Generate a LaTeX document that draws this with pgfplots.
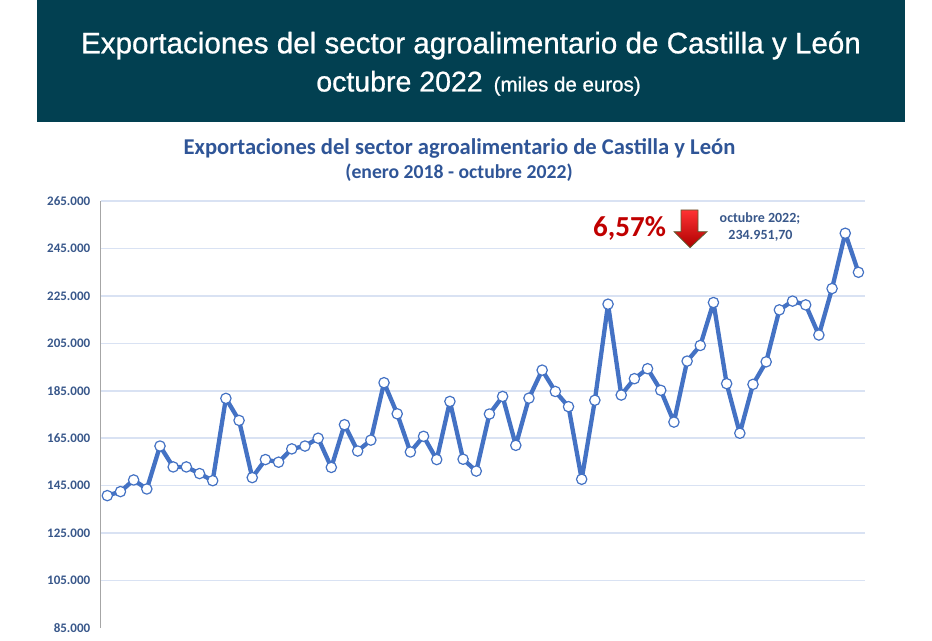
\documentclass[border=0pt]{standalone}
\usepackage{pgfplots}
\pgfplotsset{compat=1.18}
\usepackage{fontspec}
\setmainfont{Carlito}
\newfontfamily\bannerfont[FakeBold=0.8]{Liberation Sans}
\definecolor{banner}{RGB}{2,64,81}
\definecolor{titleblue}{RGB}{47,85,151}
\definecolor{tickblue}{RGB}{56,87,138}
\definecolor{lineblue}{RGB}{68,114,196}
\definecolor{gridblue}{RGB}{217,226,243}
\definecolor{axisgray}{RGB}{166,166,166}
\definecolor{annored}{RGB}{192,0,0}
\begin{document}
\begin{tikzpicture}[x=1bp,y=1bp]
\path[use as bounding box] (0,0) rectangle (932,641);
\fill[banner] (37,519) rectangle (905,641);
\node[anchor=base, text=white, font=\bannerfont\fontsize{29.6bp}{32bp}\selectfont, inner sep=0] at (471,587.7) {Exportaciones del sector agroalimentario de Castilla y León};
\node[anchor=base, text=white, font=\bannerfont, inner sep=0] at (478.5,549.5) {{\fontsize{28.5bp}{30bp}\selectfont octubre 2022}\hspace{11bp}{\fontsize{20.5bp}{24bp}\selectfont (miles de euros)}};
\node[anchor=base, text=titleblue, font=\bfseries\fontsize{22.6bp}{24bp}\selectfont, inner sep=0] at (459.5,486.2) {Exportaciones del sector agroalimentario de Castilla y León};
\node[anchor=base, text=titleblue, font=\bfseries\fontsize{19.7bp}{24bp}\selectfont, inner sep=0] at (459,462.5) {(enero 2018 - octubre 2022)};
\node[anchor=base west, text=annored, font=\bfseries\fontsize{29bp}{32bp}\selectfont, inner sep=0] at (593,404.3) {6,57\%};
\shade[top color=red!80!white, bottom color=annored!90!black, draw={rgb,255:red,90;green,95;blue,50}, line width=0.8bp]
  (681,431) -- (698,431) -- (698,409.3) -- (707,409.3) -- (690,393.3) -- (674,409.3) -- (681,409.3) -- cycle;
\node[anchor=base, text=tickblue, font=\bfseries\fontsize{14bp}{16bp}\selectfont, inner sep=0] at (760,418.3) {octubre 2022;};
\node[anchor=base, text=tickblue, font=\bfseries\fontsize{14bp}{16bp}\selectfont, inner sep=0] at (760.5,401) {234.951,70};
\begin{axis}[
  at={(100.7bp,13bp)}, anchor=south west, scale only axis,
  width=764.3bp, height=427bp,
  xmin=0.5, xmax=58.5, ymin=85000, ymax=265000,
  axis x line=none, axis y line=left, axis line style={-, axisgray, line width=1.3bp},
  xtick=\empty,
  ytick={105000,125000,...,265000},
  extra y ticks={85000}, extra y tick style={grid=none},
  ymajorgrids, grid style={gridblue, line width=1.5bp},
  major tick length=0pt,
  scaled y ticks=false,
  yticklabel style={font=\bfseries\fontsize{13bp}{14bp}\selectfont, text=tickblue, xshift=-7bp,
    /pgf/number format/.cd, fixed, precision=0, 1000 sep={.}, assume math mode=true},
  clip=false,
]
\addplot[lineblue, line width=4.3bp, line join=round, mark=*, mark size=5.2bp, mark options={fill=white, draw=lineblue, line width=1.2bp}] coordinates {
(1,140800) (2,142500) (3,147400) (4,143600) (5,161700) (6,152900) (7,152900) (8,150100) (9,147100) (10,181800)
(11,172500) (12,148400) (13,156000) (14,154900) (15,160500) (16,161700) (17,165000) (18,152700) (19,170700) (20,159600)
(21,164200) (22,188400) (23,175300) (24,159200) (25,165800) (26,156000) (27,180500) (28,156150) (29,151150) (30,175200)
(31,182600) (32,162000) (33,181900) (34,193700) (35,184700) (36,178300) (37,147700) (38,181000) (39,221500) (40,183200)
(41,190100) (42,194300) (43,185200) (44,171800) (45,197500) (46,204100) (47,222200) (48,188000) (49,167100) (50,187700)
(51,197200) (52,219100) (53,222800) (54,221200) (55,208500) (56,228100) (57,251400) (58,234952)
};
\end{axis}
\end{tikzpicture}
\end{document}
